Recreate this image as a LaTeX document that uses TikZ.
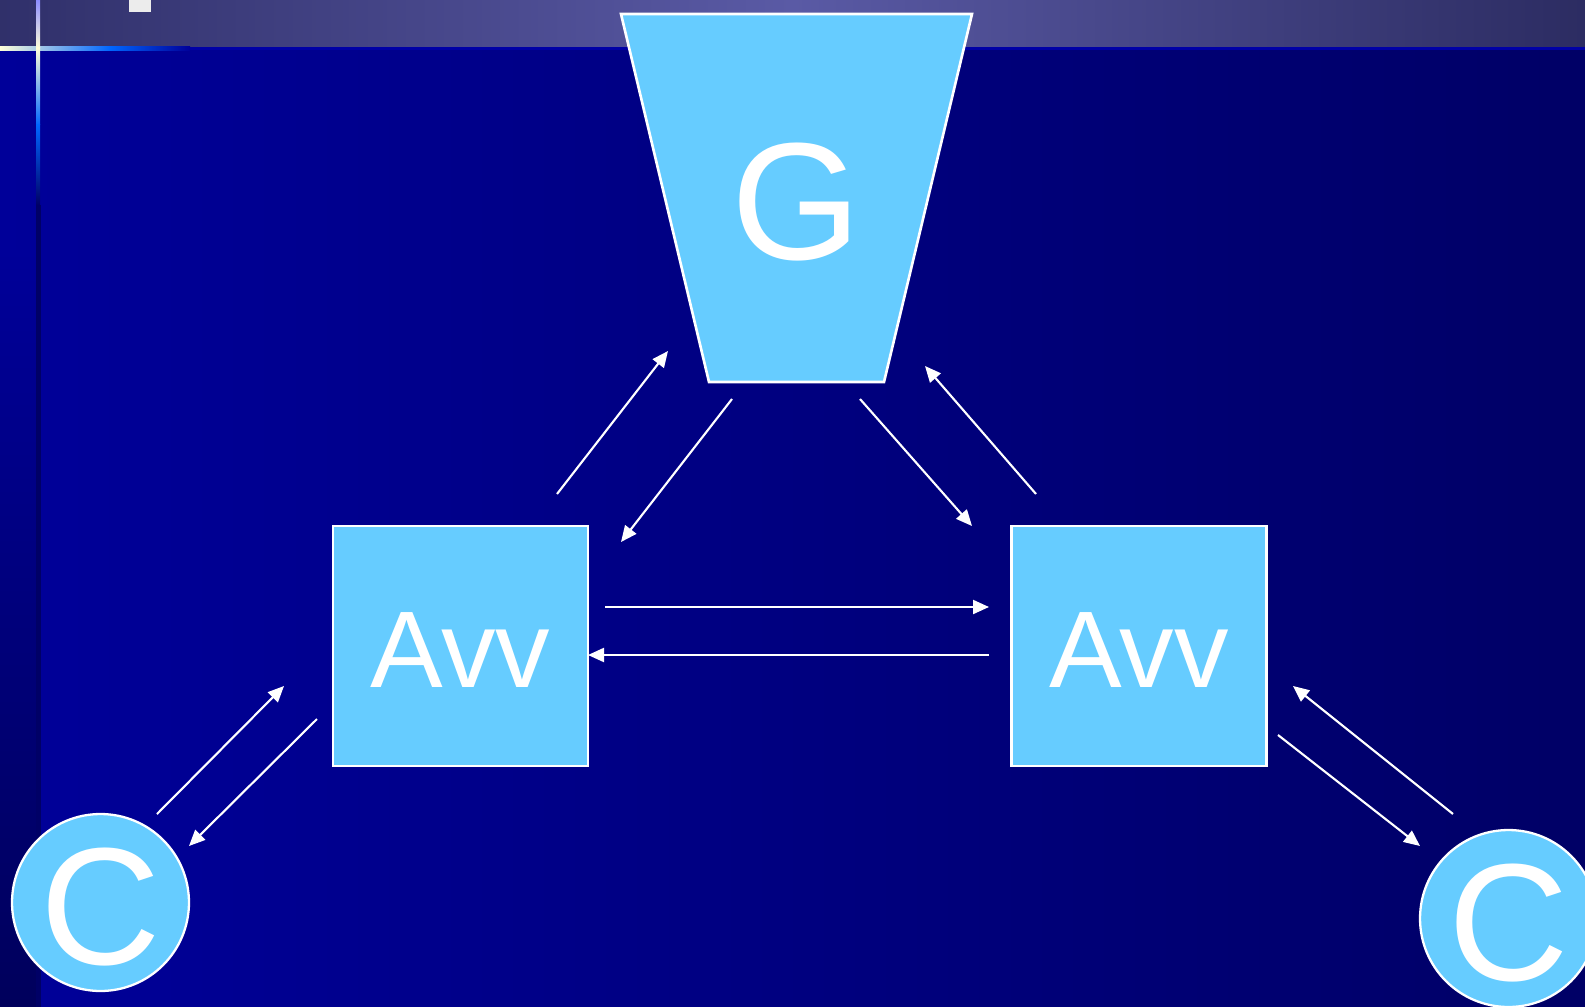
\documentclass[tikz,border=0pt]{standalone}
\usepackage{fontspec}
\setmainfont{Liberation Sans}
\usepackage{xcolor}
\usetikzlibrary{arrows.meta,calc}

\definecolor{celeste}{HTML}{66CCFF}
\definecolor{fondosx}{HTML}{000099}
\definecolor{fondodx}{HTML}{000066}
\definecolor{bandasx}{HTML}{30306A}
\definecolor{bandamid}{HTML}{5A5AA5}
\definecolor{bandadx}{HTML}{2C2C62}

\begin{document}
\begin{tikzpicture}[x=0.02cm,y=-0.02cm,
   nodo/.style={draw=white,line width=1.5pt,fill=celeste,text=white,minimum width=5.1cm,minimum height=4.8cm,
     text height=47.5pt,font=\fontsize{62}{62}\selectfont},
   tondo/.style={circle,draw=white,line width=1.3pt,fill=celeste,text=white,minimum size=3.54cm,inner sep=0pt,
     text height=71pt,font=\fontsize{95}{95}\selectfont},
   lettera/.style={text=white,inner sep=0pt,text height=71pt,font=\fontsize{95}{95}\selectfont},
   bordo/.style={draw=white,line width=1.5pt,fill=celeste},
   freccia/.style={draw=white,line width=1.2pt,-{Triangle[length=0.32cm,width=0.28cm]}}]
  \useasboundingbox (0,0) rectangle (1585,1007);
  % sfondo
  \shade[left color=fondosx,right color=fondodx] (0,47) rectangle (1585,1007);
  \shade[top color=fondosx,bottom color=fondodx!90!black] (0,250) rectangle (37,1007);
  \shade[left color=bandasx,right color=bandadx,middle color=bandamid] (0,0) rectangle (1585,47);
  \fill[blue!65!black] (0,47) rectangle (1585,50);
  \shade[left color=yellow!15,right color=blue!60!cyan] (0,46.5) rectangle (110,50.5);
  \shade[left color=blue!60!cyan,right color=fondosx] (110,46.5) rectangle (190,50.5);
  \shade[top color=blue!45!white,bottom color=yellow!15] (36,0) rectangle (40,48);
  \shade[top color=yellow!15,bottom color=blue!60!cyan] (36,48) rectangle (40,125);
  \shade[top color=blue!60!cyan,bottom color=fondodx] (36,125) rectangle (40,205);
  \fill[fondodx] (36,205) rectangle (41,1007);
  \fill[gray!15] (129,0) rectangle (151,12);

  \coordinate (gc) at (796.5,198);
  \draw[bordo] ($(gc)+(-175.5,-184)$) -- ($(gc)+(175.5,-184)$) -- ($(gc)+(87.5,184)$) -- ($(gc)+(-87.5,184)$) -- cycle;
  \node[lettera] (g) at (gc) {G};
  \node[nodo] (avv1) at (460.5,646) {Avv};
  \node[nodo] (avv2) at (1139,646) {Avv};
  \node[tondo] (c1) at (100.5,902.5) {C};
  \node[tondo] (c2) at (1508.5,918.5) {C};

  \coordinate (a1) at (557,494);  \coordinate (b1) at (668,351);
  \coordinate (a2) at (732,399);  \coordinate (b2) at (621,542);
  \coordinate (a3) at (860,399);  \coordinate (b3) at (972,526);
  \coordinate (a4) at (1036,494); \coordinate (b4) at (925,366);
  \coordinate (a5) at (605,607);  \coordinate (b5) at (989,607);
  \coordinate (a6) at (989,655);  \coordinate (b6) at (588,655);
  \coordinate (a7) at (157,814);  \coordinate (b7) at (284,686);
  \coordinate (a8) at (317,719);  \coordinate (b8) at (189,846);
  \coordinate (a9) at (1453,814); \coordinate (b9) at (1293,686);
  \coordinate (a10) at (1278,735); \coordinate (b10) at (1420,846);
  \foreach \i in {1,...,10}
    \draw[freccia] (a\i) -- (b\i);
\end{tikzpicture}
\end{document}
